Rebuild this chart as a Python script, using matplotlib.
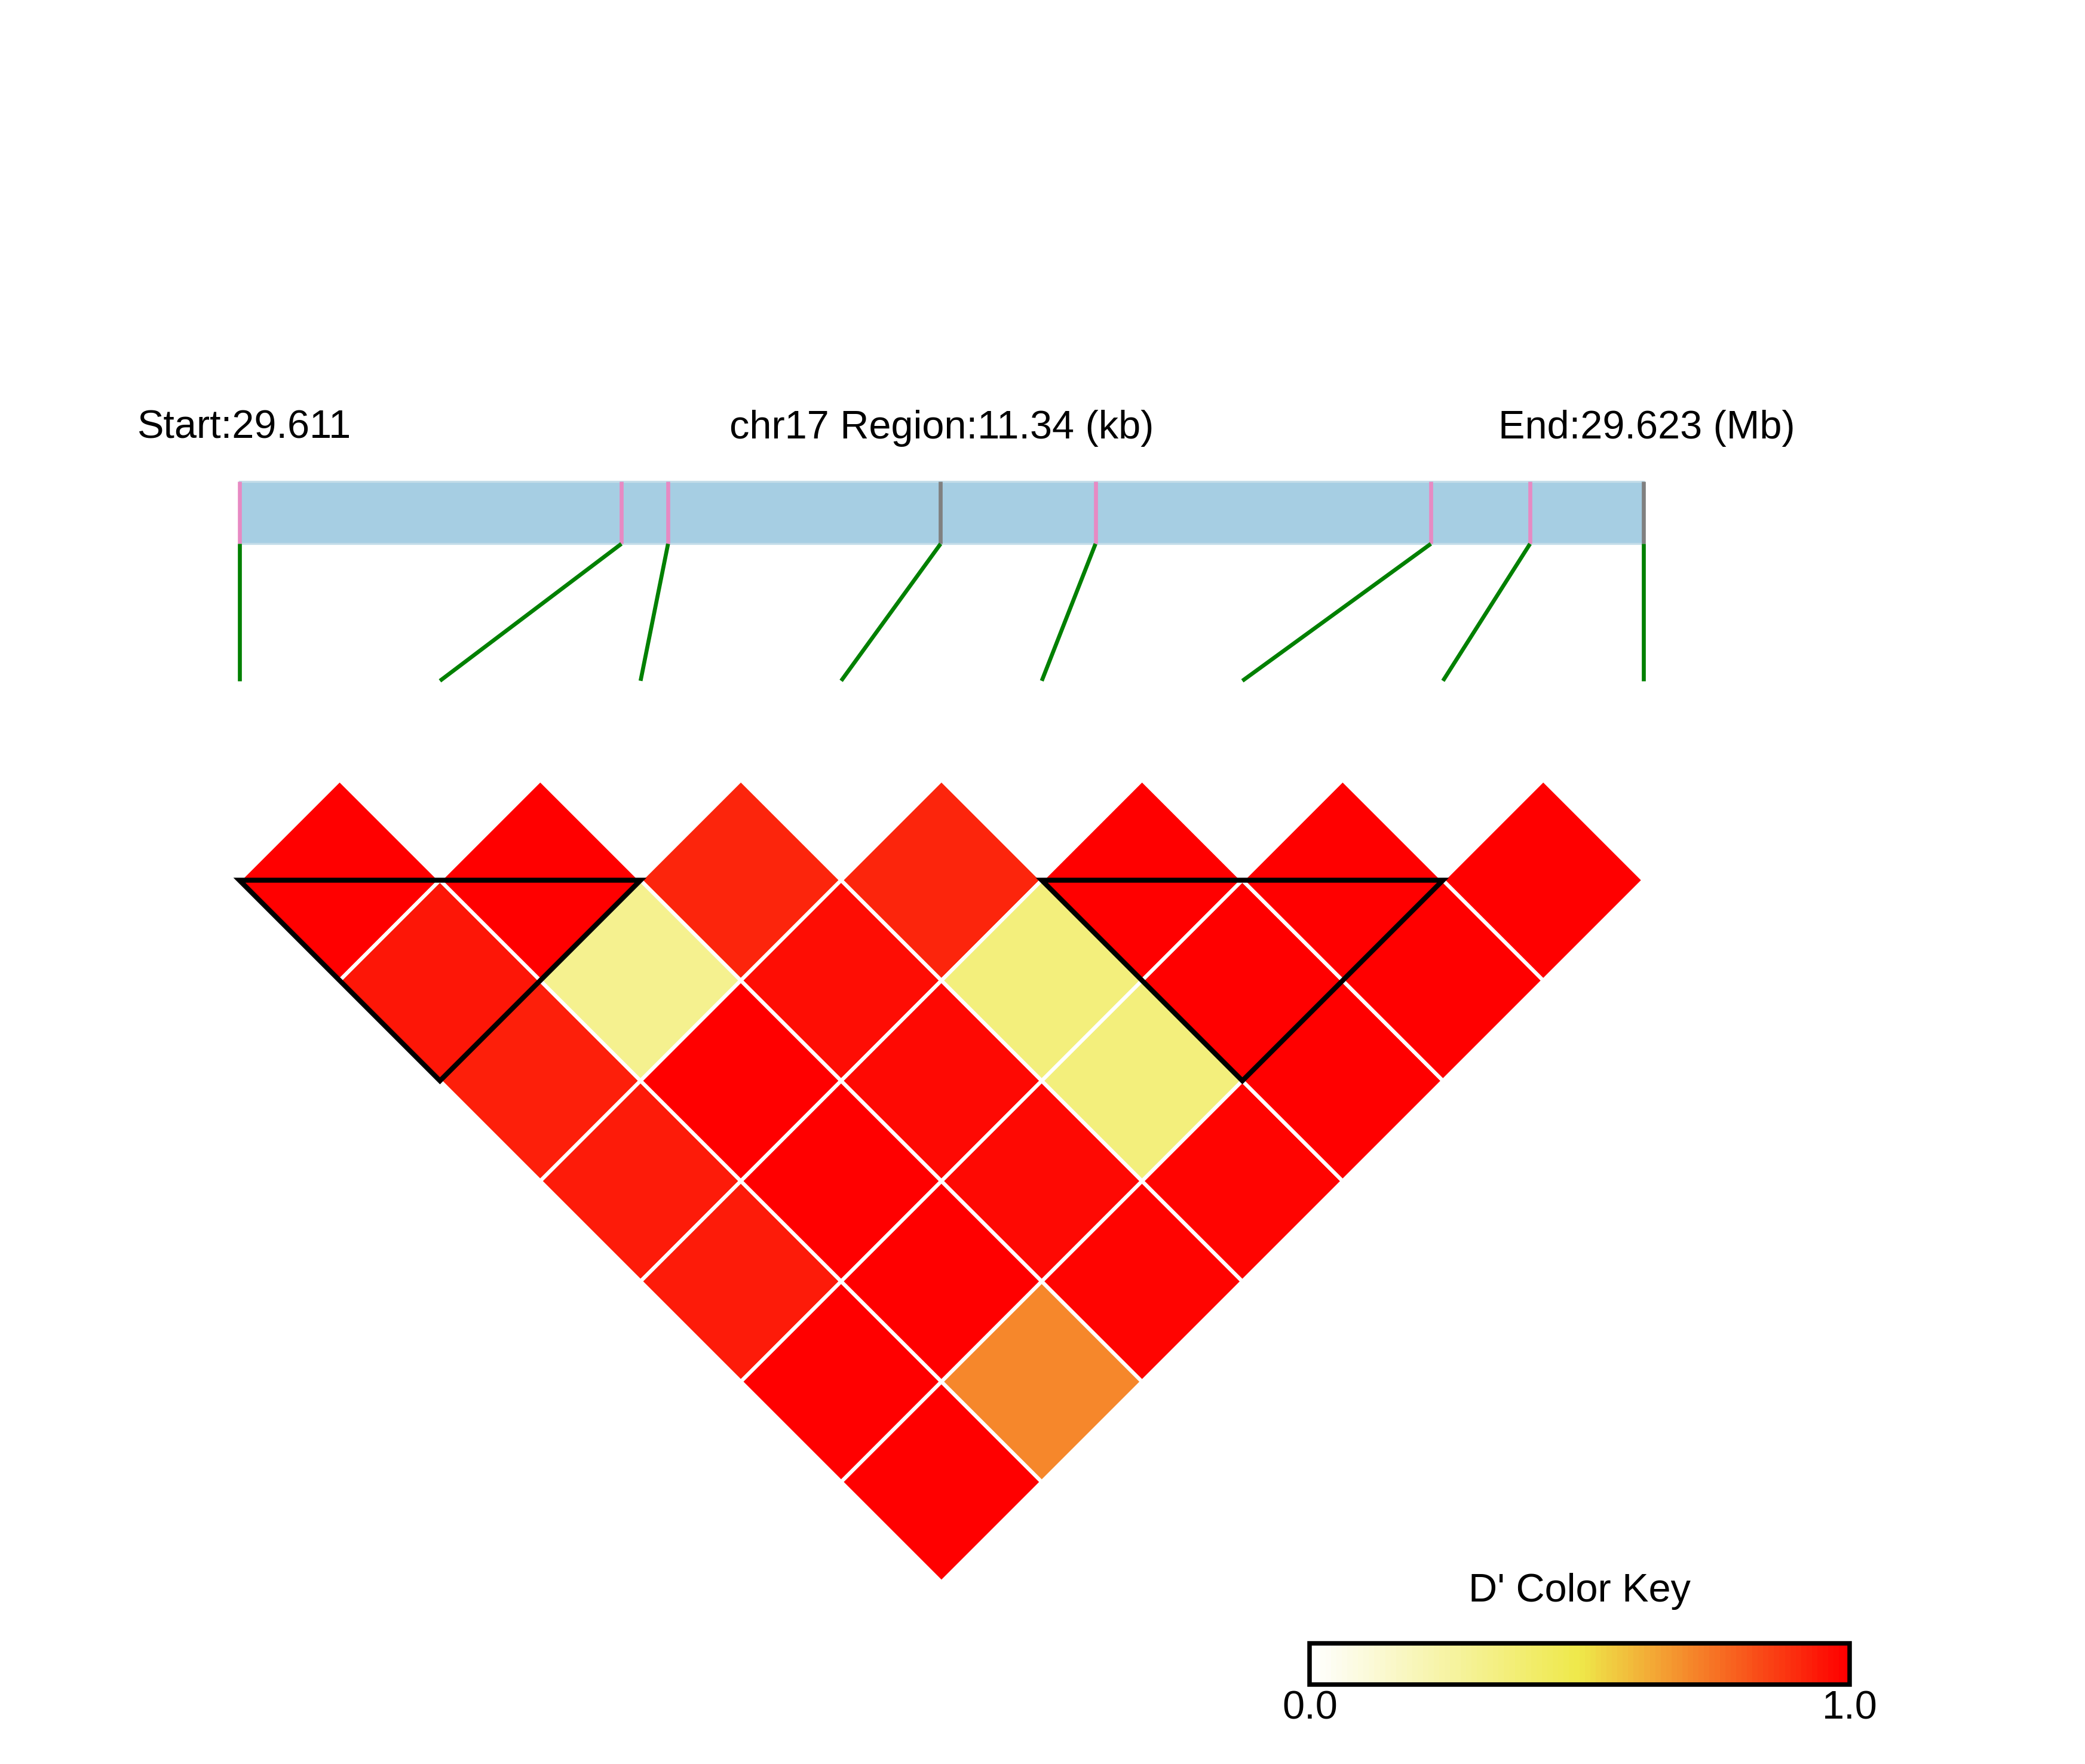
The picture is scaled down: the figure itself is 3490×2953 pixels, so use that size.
import numpy as np
import matplotlib.pyplot as plt
from matplotlib.colors import LinearSegmentedColormap
from matplotlib.collections import PolyCollection
from matplotlib.patches import Rectangle, Polygon

plt.rcParams['font.family'] = ['Liberation Sans', 'DejaVu Sans']

# SNP data
chrom = 'chr17'
snp_pos = [29611300, 29614385, 29614762, 29616963, 29618214, 29620922, 29621723, 29622640]
tick_colors = ['#e78ac3', '#e78ac3', '#e78ac3', '#808080', '#e78ac3', '#e78ac3', '#e78ac3', '#808080']

# D' values, row i holds pairs (i, j) for j > i
dprime = [
    [1.00, 0.95, 0.93, 0.94, 0.94, 1.00, 1.00],
    [1.00, 0.31, 1.00, 1.00, 1.00, 0.71],
    [0.92, 0.97, 0.98, 0.98, 0.99],
    [0.92, 0.36, 0.36, 0.99],
    [1.00, 1.00, 1.00],
    [1.00, 1.00],
    [1.00],
]
blocks = [(0, 2), (4, 6)]  # first / last SNP of each haplotype block

cmap = LinearSegmentedColormap.from_list(
    'ld', [(0.0, '#ffffff'), (0.5, '#efe94a'), (1.0, '#ff0000')])

fig = plt.figure(figsize=(3490 / 300, 2953 / 300), dpi=300)
ax = fig.add_axes([0, 0, 1, 1])
ax.axis('off')

n = len(snp_pos)
start, end = snp_pos[0], snp_pos[-1]

# diamonds
polys, vals = [], []
for i, row in enumerate(dprime):
    for k, v in enumerate(row):
        j = i + 1 + k
        cx = (i + j) / 2
        cy = -(j - i - 1) / 2
        polys.append([(cx - 0.5, cy), (cx, cy + 0.5), (cx + 0.5, cy), (cx, cy - 0.5)])
        vals.append(v)
pc = PolyCollection(polys, facecolors=cmap(np.array(vals)), edgecolors='white',
                    linewidths=1.5, zorder=2)
ax.add_collection(pc)

# block outlines
for s, e in blocks:
    tri = Polygon([(s, 0), (e, 0), ((s + e) / 2, -(e - s) / 2)], closed=True,
                  fill=False, edgecolor='black', linewidth=2.0, joinstyle='miter', zorder=3)
    ax.add_patch(tri)

# gene bar
bar_lo, bar_hi = 1.677, 1.989
ax.add_patch(Rectangle((0, bar_lo), n - 1, bar_hi - bar_lo, facecolor='#a6cee3',
                       edgecolor='#c4dde9', linewidth=0.8, zorder=1))
for k, p in enumerate(snp_pos):
    xp = (p - start) / (end - start) * (n - 1)
    ax.plot([xp, xp], [bar_lo, bar_hi], color=tick_colors[k], lw=1.6, zorder=2,
            solid_capstyle='butt')
    ax.plot([xp, k], [bar_lo, 0.994], color='#008000', lw=1.6, zorder=2,
            solid_capstyle='butt')

# header text
ty = 2.254
ax.text(-0.51, ty, 'Start:%.3f' % (start / 1e6), fontsize=16, ha='left', va='center')
ax.text((n - 1) / 2, ty, '%s Region:%.2f (kb)' % (chrom, (end - start) / 1e3),
        fontsize=16, ha='center', va='center')
ax.text(7.756, ty, 'End:%.3f (Mb)' % (end / 1e6), fontsize=16, ha='right', va='center')

# color key
kx0, kx1, ky0, ky1 = 5.336, 8.028, -4.010, -3.805
grad = np.linspace(0, 1, 100).reshape(1, -1)
ax.imshow(grad, cmap=cmap, extent=(kx0, kx1, ky0, ky1), aspect='auto', zorder=2)
ax.add_patch(Rectangle((kx0, ky0), kx1 - kx0, ky1 - ky0, fill=False,
                       edgecolor='black', linewidth=1.8, zorder=3))
ax.text((kx0 + kx1) / 2, -3.546, "D' Color Key", fontsize=16, ha='center', va='center')
ax.text(kx0, -4.13, '0.0', fontsize=16, ha='center', va='center')
ax.text(kx1, -4.13, '1.0', fontsize=16, ha='center', va='center')

ax.set_xlim(-1.1932, 9.2005)
ax.set_ylim(-4.4062, 4.3883)

fig.savefig('out.png', dpi=300)
